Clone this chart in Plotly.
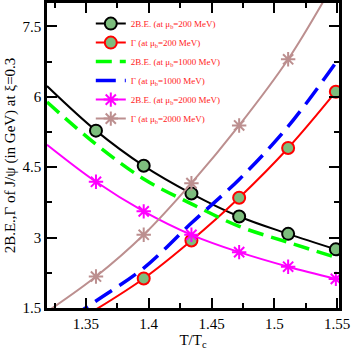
import plotly.graph_objects as go

# T/Tc where the markers sit, plus the left edge value used for the curves
t_edge = 1.319
t = [1.358, 1.396, 1.434, 1.472, 1.511, 1.549]

# 2B.E. and Gamma (GeV)
be_200 = [6.23, 5.28, 4.53, 3.94, 3.45, 3.08, 2.75]      # first value at t_edge
gam_200 = [1.47, 2.13, 2.94, 3.85, 4.91, 6.11]
be_1000 = [5.89, 4.99, 4.25, 3.72, 3.24, 2.90, 2.58]     # first value at t_edge
gam_1000 = [0.95, 1.65, 2.35, 3.31, 4.24, 5.37, 6.73]    # first value at t_edge
be_2000 = [4.98, 4.19, 3.56, 3.06, 2.69, 2.38, 2.12]     # first value at t_edge
gam_2000 = [1.42, 2.17, 3.06, 4.16, 5.39, 6.80, 8.50]    # first value at t_edge

labels = [
    "2B.E. (at μ<sub>b</sub>=200 MeV)",
    "Γ (at μ<sub>b</sub>=200 MeV)",
    "2B.E. (at μ<sub>b</sub>=1000 MeV)",
    "Γ (at μ<sub>b</sub>=1000 MeV)",
    "2B.E. (at μ<sub>b</sub>=2000 MeV)",
    "Γ (at μ<sub>b</sub>=2000 MeV)",
]

t_full = [t_edge] + t
FILL = "#7dbd7d"
FONT = "Liberation Serif"

fig = go.Figure()

# black: 2B.E. at 200 MeV
fig.add_trace(go.Scatter(
    x=t_full, y=be_200, name=labels[0], mode="lines+markers",
    line=dict(color="black", width=2, shape="spline"),
    marker=dict(symbol="circle", size=12, color=FILL, line=dict(color="black", width=2)),
    selectedpoints=list(range(1, len(t_full))),
    selected=dict(marker=dict(opacity=1)), unselected=dict(marker=dict(opacity=0)),
))
# red: Gamma at 200 MeV
fig.add_trace(go.Scatter(
    x=t, y=gam_200, name=labels[1], mode="lines+markers",
    line=dict(color="red", width=2, shape="spline"),
    marker=dict(symbol="circle", size=12, color=FILL, line=dict(color="red", width=2)),
    selectedpoints=list(range(1, len(t))),
    selected=dict(marker=dict(opacity=1)), unselected=dict(marker=dict(opacity=0)),
))
# green dashed: 2B.E. at 1000 MeV
fig.add_trace(go.Scatter(
    x=t_full, y=be_1000, name=labels[2], mode="lines",
    line=dict(color="#00ff00", width=3.5, shape="spline", dash="16px,8px"),
))
# blue dashed: Gamma at 1000 MeV
fig.add_trace(go.Scatter(
    x=t_full, y=gam_1000, name=labels[3], mode="lines",
    line=dict(color="#0000ff", width=3.5, shape="spline", dash="20px,9px"),
))
# magenta: 2B.E. at 2000 MeV
fig.add_trace(go.Scatter(
    x=t_full, y=be_2000, name=labels[4], mode="lines+markers",
    line=dict(color="#ff00ff", width=2, shape="spline"),
    marker=dict(symbol="asterisk-open", size=12, line=dict(color="#ff00ff", width=2)),
    selectedpoints=list(range(1, len(t_full))),
    selected=dict(marker=dict(opacity=1)), unselected=dict(marker=dict(opacity=0)),
))
# brown: Gamma at 2000 MeV
fig.add_trace(go.Scatter(
    x=t_full, y=gam_2000, name=labels[5], mode="lines+markers",
    line=dict(color="#bc8f8f", width=2, shape="spline"),
    marker=dict(symbol="asterisk-open", size=12, line=dict(color="#bc8f8f", width=2)),
    selectedpoints=list(range(1, len(t_full))),
    selected=dict(marker=dict(opacity=1)), unselected=dict(marker=dict(opacity=0)),
))

axis_common = dict(
    showline=True, linecolor="black", linewidth=2.5, mirror="ticks",
    ticks="inside", ticklen=10, tickwidth=1.5, tickcolor="black",
    showgrid=False, zeroline=False, automargin=False,
    tickfont=dict(family=FONT, size=15, color="black"),
)

fig.update_layout(
    width=354, height=354,
    margin=dict(l=47, r=15, t=3, b=46),
    paper_bgcolor="white", plot_bgcolor="white",
    font=dict(family=FONT, color="black"),
    xaxis=dict(
        range=[1.319, 1.5515], tick0=1.35, dtick=0.05,
        minor=dict(dtick=0.025, ticks="inside", ticklen=5, tickwidth=1.5, tickcolor="black"),
        title=dict(text="T/T<sub>c</sub>", font=dict(family=FONT, size=15), standoff=2),
        **axis_common,
    ),
    yaxis=dict(
        range=[1.5, 8], tick0=1.5, dtick=1.5,
        minor=dict(dtick=0.75, ticks="inside", ticklen=5, tickwidth=1.5, tickcolor="black"),
        title=dict(text="2B.E.,Γ of J/ψ (in GeV) at ξ=0.3", font=dict(family=FONT, size=15), standoff=4),
        **axis_common,
    ),
    legend=dict(
        x=0.15, y=0.98, xanchor="left", yanchor="top",
        bgcolor="rgba(0,0,0,0)", borderwidth=0,
        font=dict(family=FONT, size=9, color="#ff1a1a"),
    ),
    showlegend=True,
)

# page body margin would push the figure 8px off the window
fig.write_html("out.html", config={"displayModeBar": False},
               post_script="document.body.style.margin='0';")
